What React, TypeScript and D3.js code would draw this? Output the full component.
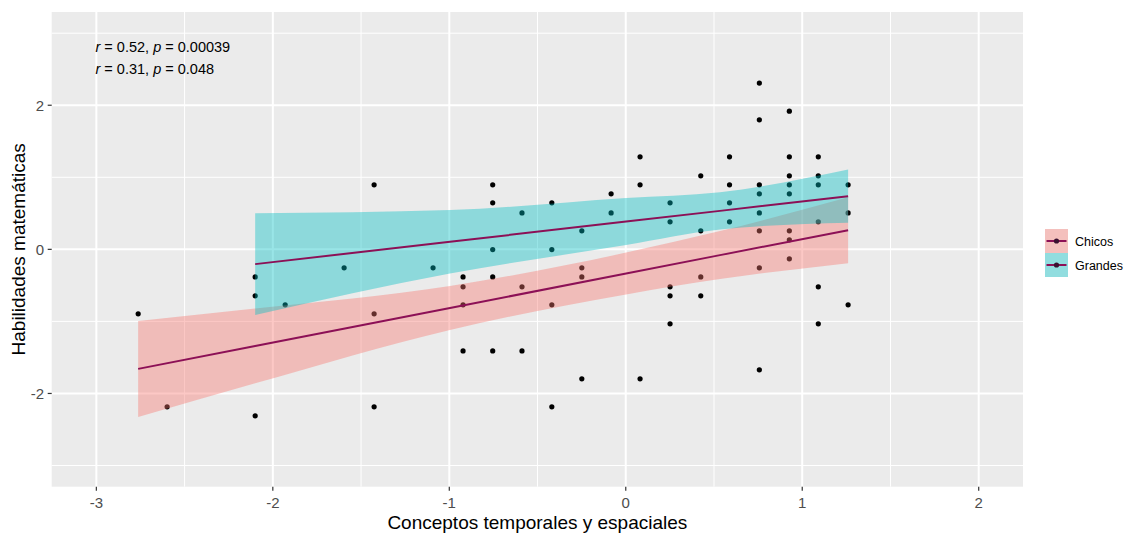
import React from 'react';
import * as d3 from 'd3';

// scattered scores (all groups, drawn black)
const pointX = [
  -2.763, -2.599, -2.1, -2.1, -2.1, -1.93, -1.596, -1.426, -1.426, -1.426, -1.092,
  -0.922, -0.922, -0.922, -0.922,
  -0.754, -0.754, -0.754, -0.754, -0.754,
  -0.588, -0.588, -0.588,
  -0.419, -0.419, -0.419, -0.419,
  -0.249, -0.249, -0.249, -0.249,
  -0.083, -0.083,
  0.081, 0.081, 0.081,
  0.251, 0.251, 0.251, 0.251, 0.251,
  0.425, 0.425, 0.425, 0.425,
  0.588, 0.588, 0.588, 0.588,
  0.757, 0.757, 0.757, 0.757, 0.757, 0.757, 0.757, 0.757,
  0.927, 0.927, 0.927, 0.927, 0.927, 0.927, 0.927, 0.927,
  1.091, 1.091, 1.091, 1.091, 1.091, 1.091,
  1.26, 1.26, 1.26,
];
const pointY = [
  -0.895, -2.186, -0.382, -0.645, -2.311, -0.77, -0.257, 0.895, -0.895, -2.186, -0.257,
  -0.382, -0.52, -0.77, -1.409,
  0.895, 0.645, -0.003, -0.382, -1.409,
  0.506, -0.52, -1.409,
  0.645, -0.003, -0.77, -2.186,
  0.257, -0.257, -0.382, -1.797,
  0.77, 0.506,
  1.284, 0.895, -1.797,
  0.645, 0.382, -0.52, -0.645, -1.034,
  1.02, 0.257, -0.382, -0.645,
  1.284, 0.895, 0.645, 0.382,
  2.307, 1.797, 0.895, 0.77, 0.506, 0.257, -0.257, -1.672,
  1.918, 1.284, 1.02, 0.895, 0.77, 0.257, 0.132, -0.132,
  1.284, 1.02, 0.895, 0.382, -0.52, -1.034,
  0.895, 0.506, -0.77,
];

// fitted lines and confidence bands
const chicosX = [-2.763, -2.1, -0.996, 0.002, 0.534, 1.26];
const chicosFit = [-1.659, -1.341, -0.813, -0.336, -0.08, 0.266];
const chicosLow = [-2.325, -1.86, -1.118, -0.627, -0.413, -0.192];
const chicosHigh = [-0.993, -0.822, -0.508, -0.045, 0.253, 0.724];

const grandesX = [-2.1, -0.996, 0.002, 0.534, 1.26];
const grandesFit = [-0.205, 0.105, 0.386, 0.534, 0.738];
const grandesLow = [-0.91, -0.335, 0.06, 0.274, 0.369];
const grandesHigh = [0.5, 0.545, 0.712, 0.794, 1.107];

const groups = ['Chicos', 'Grandes'];
const groupFill = ['#F8766D', '#00BFC4'];
const lineColor = '#8C1056';

const xTicks = [-3, -2, -1, 0, 1, 2];
const xMinor = [-2.5, -1.5, -0.5, 0.5, 1.5];
const yTicks = [-2, 0, 2];
const yMinor = [-3, -1, 1, 3];

const corLabels = [
  { r: '0.52', p: '0.00039' },
  { r: '0.31', p: '0.048' },
];

const font = '"Liberation Sans", Arial, sans-serif';

export default function App() {
  const W = 1126, H = 536;
  const left = 51.7, right = 1023, top = 12, bottom = 486.7;

  const x = d3.scaleLinear().domain([-3.253, 2.251]).range([left, right]);
  const y = d3.scaleLinear().domain([-3.294, 3.294]).range([bottom, top]);

  const bands = [
    { xs: chicosX, fit: chicosFit, lo: chicosLow, hi: chicosHigh },
    { xs: grandesX, fit: grandesFit, lo: grandesLow, hi: grandesHigh },
  ];

  const area = d3.area<number>()
    .curve(d3.curveMonotoneX);
  const line = d3.line<[number, number]>();

  const keyX = 1045, keyW = 23, keyH = 24, keyTop = 229;

  return (
    <svg width={W} height={H} style={{ position: 'absolute', left: 0, top: 0, background: '#fff' }}>
      <rect x={left} y={top} width={right - left} height={bottom - top} fill="#EBEBEB" />
      {xMinor.map((v) => (
        <line key={'xm' + v} x1={x(v)} x2={x(v)} y1={top} y2={bottom} stroke="#fff" strokeWidth={1} />
      ))}
      {yMinor.map((v) => (
        <line key={'ym' + v} x1={left} x2={right} y1={y(v)} y2={y(v)} stroke="#fff" strokeWidth={1} />
      ))}
      {xTicks.map((v) => (
        <line key={'xg' + v} x1={x(v)} x2={x(v)} y1={top} y2={bottom} stroke="#fff" strokeWidth={2} />
      ))}
      {yTicks.map((v) => (
        <line key={'yg' + v} x1={left} x2={right} y1={y(v)} y2={y(v)} stroke="#fff" strokeWidth={2} />
      ))}

      {pointX.map((px, i) => (
        <circle key={'p' + i} cx={x(px)} cy={y(pointY[i])} r={2.6} fill="#000" />
      ))}

      {bands.map((b, gi) => {
        const idx = b.xs.map((_, i) => i);
        const a = area
          .x((i) => x(b.xs[i]))
          .y0((i) => y(b.lo[i]))
          .y1((i) => y(b.hi[i]))(idx) as string;
        const l = line(b.xs.map((v, i) => [x(v), y(b.fit[i])] as [number, number])) as string;
        return (
          <g key={'band' + gi}>
            <path d={a} fill={groupFill[gi]} fillOpacity={0.4} />
            <path d={l} fill="none" stroke={lineColor} strokeWidth={2} />
          </g>
        );
      })}

      {corLabels.map((c, i) => (
        <text key={'cor' + i} x={95.5} y={52 + i * 21.6} fontFamily={font} fontSize={14.5} fill="#000">
          <tspan fontStyle="italic">r</tspan>
          {` = ${c.r}, `}
          <tspan fontStyle="italic">p</tspan>
          {` = ${c.p}`}
        </text>
      ))}

      {xTicks.map((v) => (
        <g key={'xt' + v}>
          <line x1={x(v)} x2={x(v)} y1={bottom} y2={bottom + 4} stroke="#333" strokeWidth={1.2} />
          <text x={x(v)} y={507.5} textAnchor="middle" fontFamily={font} fontSize={15} fill="#4D4D4D">
            {String(v)}
          </text>
        </g>
      ))}
      {yTicks.map((v) => (
        <g key={'yt' + v}>
          <line x1={left - 4} x2={left} y1={y(v)} y2={y(v)} stroke="#333" strokeWidth={1.2} />
          <text x={44} y={y(v) + 5.3} textAnchor="end" fontFamily={font} fontSize={15} fill="#4D4D4D">
            {String(v)}
          </text>
        </g>
      ))}

      <text x={(left + right) / 2} y={529} textAnchor="middle" fontFamily={font} fontSize={19} fill="#000">
        Conceptos temporales y espaciales
      </text>
      <text
        transform={`translate(25,${(top + bottom) / 2}) rotate(-90)`}
        textAnchor="middle"
        fontFamily={font}
        fontSize={19}
        fill="#000"
      >
        Habilidades matemáticas
      </text>

      {groups.map((g, i) => {
        const ky = keyTop + i * keyH;
        return (
          <g key={'leg' + g}>
            <rect x={keyX} y={ky} width={keyW} height={keyH} fill="#F2F2F2" />
            <rect x={keyX} y={ky} width={keyW} height={keyH} fill={groupFill[i]} fillOpacity={0.4} />
            <line x1={keyX + 1.5} x2={keyX + keyW - 1.5} y1={ky + keyH / 2} y2={ky + keyH / 2} stroke={lineColor} strokeWidth={2} />
            <circle cx={keyX + keyW / 2} cy={ky + keyH / 2} r={2.6} fill="#3a1030" />
            <text x={1075} y={ky + keyH / 2 + 4.5} fontFamily={font} fontSize={12.5} fill="#000">
              {g}
            </text>
          </g>
        );
      })}
    </svg>
  );
}
